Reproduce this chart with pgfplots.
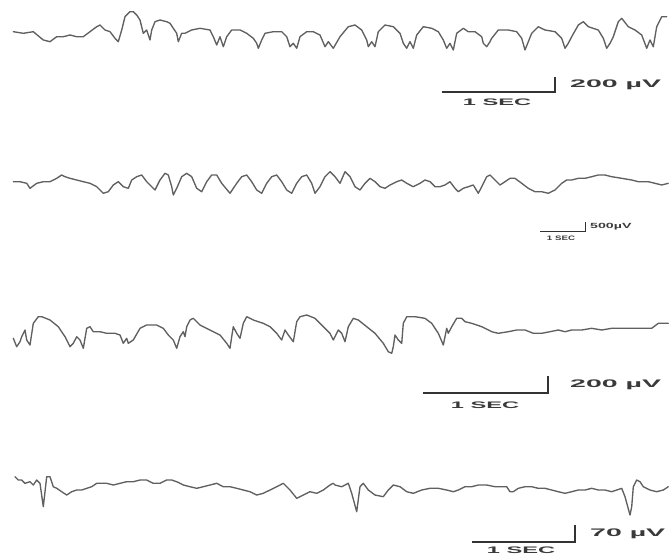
\documentclass[border=0pt]{standalone}
\usepackage{pgfplots}
\pgfplotsset{compat=1.18}
\usepackage{fontspec}
\setmainfont{Liberation Sans}
\definecolor{trace}{HTML}{606060}
\definecolor{lab}{HTML}{3A3A3A}
\newcommand{\lbl}[3]{{\fontsize{#1}{#1}\selectfont\bfseries\color{lab}\scalebox{#2}[1]{#3}}}
\begin{document}
\begin{tikzpicture}
\begin{axis}[scale only axis, width=670bp, height=558bp,
  xmin=0, xmax=670, ymin=0, ymax=558, y dir=reverse,
  axis line style={draw=none}, ticks=none, clip=false,
  tr/.style={draw=trace, line width=1.35bp, line join=round, line cap=round, no markers},
  sb/.style={draw=black!80, line width=1.1bp, no markers}]
% ---- trace 1
\addplot[tr] coordinates {(13.3,31.7)(23.3,33.3)(33.3,31.7)(43.3,40)(50,41.7)(56.7,36.7)(63.3,36.7)(70,35)(76.7,36.7)(83.3,36.7)(90,31.7)(96.7,26.7)(100,25)(105,30)(110,31.7)(115,38.3)(118.3,41.7)(121.7,30)(125,16.7)(130,11.7)(133.3,11.7)(136.7,15)(140,20)(143.3,33.3)(146.7,30)(150,40)(151.7,30)(155,21.7)(160,20)(166.7,21.7)(170,23.3)(173.3,28.3)(176.7,33.3)(178.3,41.7)(181.7,33.3)(185,33.3)(191.7,30)(200,28.3)(210,30)(213.3,36.7)(216.7,45)(220,36.7)(223.3,46.7)(226.7,36.7)(231.7,30)(240,30)(246.7,33.3)(253.3,38.3)(256.7,43.3)(258.3,48.3)(261.7,40)(265,33.3)(273.3,31.7)(281.7,31.7)(286.7,36.7)(290,46.7)(293.3,43.3)(296.7,48.3)(300,36.7)(306.7,31.7)(313.3,31.7)(320,35)(325,46.7)(328.3,41.7)(333.3,48.3)
(340,36.7)(348.3,26.7)(355,25)(361.7,30)(366.7,40)(368.3,46.7)(371.7,41.7)(375,46.7)(378.3,31.7)(385,25)(393.3,26.7)(400,33.3)(403.3,43.3)(406.7,48.3)(410,41.7)(413.3,48.3)(416.7,35)(423.3,26.7)(431.7,28.3)(438.3,31.7)(443.3,40)(446.7,48.3)(450,43.3)(453.3,50)(456.7,33.3)(463.3,28.3)(468.3,31.7)(475,31.7)(481.7,36.7)(483.3,43.3)(486.7,46.7)(490,41.7)(491.7,38.3)(498.3,30)(508.3,30)(516.7,31.7)(521.7,38.3)(525,50)(528.3,41.7)(531.7,33.3)(538.3,26.7)(545,30)(555,31.7)(561.7,38.3)(565,48.3)(568.3,43.3)(571.7,36.7)(578.3,25)(583.3,21.7)(588.3,26.7)(598.3,30)(603.3,38.3)(606.7,48.3)(610,43.3)(613.3,36.7)(618.3,21.7)(621.7,18.3)(628.3,26.7)(635,30)(641.7,35)(646.7,48.3)(650,40)(653.3,46.7)(656.7,26.7)(661.7,16.7)(666.7,16.7)};
% ---- trace 2
\addplot[tr] coordinates {(13.3,181.7)(20,181.7)(26.7,183.3)(30,188.3)(36.7,183.3)(43.3,181.7)(50,181.7)(56.7,178.3)(61.7,175)(65,176.7)(70,178.3)(76.7,180)(83.3,181.7)(90,183.3)(96.7,186.7)(103.3,193.3)(108.3,191.7)(113.3,185)(118.3,181.7)(123.3,186.7)(128.3,188.3)(131.7,180)(136.7,176.7)(141.7,175)(146.7,181.7)(151.7,186.7)(155,190)(160,180)(165,173.3)(168.3,175)(171.7,186.7)(173.3,195)(176.7,188.3)(181.7,176.7)(186.7,173.3)(191.7,176.7)(196.7,188.3)(201.7,191.7)(206.7,181.7)(211.7,175)(216.7,175)(221.7,183.3)(230,193.3)(236.7,183.3)(241.7,176.7)(246.7,175)(251.7,181.7)(256.7,190)(261.7,193.3)(266.7,183.3)(271.7,176.7)(276.7,175)(281.7,181.7)(286.7,190)(291.7,193.3)(296.7,183.3)(301.7,176.7)(306.7,175)(311.7,183.3)(315,193.3)(320,186.7)(325,176.7)(330,171.7)(333.3,175)
(335,176.7)(340,183.3)(345,171.7)(350,176.7)(355,186.7)(360,190)(365,183.3)(370,178.3)(375,181.7)(380,186.7)(385,188.3)(390,185)(396.7,181.7)(401.7,180)(406.7,183.3)(413.3,186.7)(420,183.3)(425,180)(430,181.7)(435,186.7)(440,186.7)(445,185)(450,181.7)(455,188.3)(458.3,191.7)(463.3,188.3)(468.3,186.7)(473.3,185)(478.3,193.3)(481.7,186.7)(486.7,176.7)(490,175)(495,180)(500,185)(505,181.7)(510,178.3)(515,178.3)(521.7,183.3)(528.3,188.3)(535,191.7)(541.7,191.7)(548.3,193.3)(555,190)(561.7,183.3)(566.7,180)(571.7,180)(578.3,178.3)(585,178.3)(591.7,176.7)(598.3,175)(605,175)(611.7,176.7)(621.7,178.3)(631.7,180)(638.3,181.7)(648.3,181.7)(655,183.3)(661.7,185)(668.3,183.3)};
% ---- trace 3
\addplot[tr] coordinates {(13.3,338.3)(16.7,346.7)(20,341.7)(21.7,336.7)(25,330)(26.7,340)(30,345)(33.3,323.3)(38.3,316.7)(41.7,316.7)(50,320)(58.3,326.7)(65,336.7)(70,346.7)(73.3,343.3)(76.7,336.7)(80,340)(83.3,348.3)(86.7,328.3)(90,326.7)(93.3,331.7)(100,331.7)(106.7,333.3)(115,333.3)(120,335)(123.3,343.3)(126.7,338.3)(128.3,343.3)(133.3,340)(140,328.3)(146.7,325)(156.7,325)(163.3,328.3)(168.3,335)(173.3,340)(176.7,348.3)(180,336.7)(183.3,331.7)(185,336.7)(186.7,326.7)(190,320)(193.3,318.3)(200,325)(210,330)(220,335)(226.7,343.3)(230,348.3)(231.7,336.7)(233.3,326.7)(236.7,333.3)(240,338.3)(243.3,323.3)(246.7,316.7)(253.3,320)(263.3,323.3)(270,326.7)(276.7,333.3)(281.7,340)(285,330)(288.3,335)(293.3,341.7)(296.7,321.7)(300,316.7)(306.7,315)(315,318.3)(323.3,326.7)(330,333.3)(333.3,340)
(338.3,330)(341.7,333.3)(345,341.7)(348.3,326.7)(353.3,318.3)(358.3,320)(366.7,326.7)(375,333.3)(383.3,343.3)(388.3,351.7)(391.7,353.3)(393.3,346.7)(395,335)(398.3,340)(401.7,343.3)(403.3,323.3)(406.7,316.7)(415,316.7)(425,318.3)(431.7,323.3)(438.3,333.3)(443.3,345)(446.7,328.3)(448.3,333.3)(451.7,326.7)(456.7,318.3)(461.7,318.3)(465,321.7)(471.7,323.3)(481.7,326.7)(491.7,331.7)(498.3,333.3)(508.3,331.7)(516.7,330)(525,330)(533.3,333.3)(541.7,333.3)(550,331.7)(558.3,330)(565,331.7)(571.7,330)(581.7,330)(591.7,328.3)(601.7,330)(611.7,328.3)(621.7,328.3)(631.7,328.3)(641.7,328.3)(651.7,328.3)(658.3,323.3)(668.3,323.3)};
% ---- trace 4
\addplot[tr] coordinates {(15,476.7)(18.3,480)(21.7,480)(25,483.3)(30,481.7)(33.3,485)(36.7,480)(40,483.3)(43.3,506.7)(46.7,476.7)(50,476.7)(53.3,486.7)(56.7,488.3)(61.7,491.7)(66.7,495)(71.7,491.7)(76.7,490)(81.7,490)(86.7,488.3)(91.7,486.7)(96.7,483.3)(101.7,483.3)(106.7,483.3)(113.3,485)(120,483.3)(126.7,481.7)(133.3,481.7)(140,480)(146.7,480)(153.3,483.3)(160,483.3)(166.7,480)(171.7,480)(176.7,481.7)(183.3,485)(190,486.7)(196.7,488.3)(203.3,486.7)(210,485)(216.7,483.3)(223.3,486.7)(230,486.7)(236.7,488.3)(243.3,490)(250,491.7)(256.7,495)(263.3,493.3)(270,490)(276.7,486.7)(283.3,483.3)(290,490)(296.7,498.3)(303.3,495)(310,491.7)(316.7,493.3)(323.3,490)(330,485)(333.3,483.3)
(335,485)(341.7,486.7)(348.3,483.3)(351.7,493.3)(356.7,511.7)(360,486.7)(363.3,483.3)(368.3,490)(375,495)(383.3,496.7)(388.3,490)(393.3,485)(400,486.7)(406.7,491.7)(413.3,493.3)(421.7,490)(430,488.3)(438.3,488.3)(446.7,490)(453.3,491.7)(458.3,490)(465,486.7)(471.7,486.7)(478.3,485)(486.7,485)(495,486.7)(501.7,486.7)(506.7,486.7)(510,491.7)(513.3,491.7)(518.3,488.3)(525,486.7)(531.7,486.7)(538.3,488.3)(545,488.3)(551.7,490)(558.3,491.7)(565,493.3)(571.7,491.7)(578.3,490)(585,490)(591.7,488.3)(598.3,490)(605,490)(611.7,491.7)(616.7,490)(621.7,488.3)(625,496.7)(630,515)(631.7,506.7)(633.3,486.7)(636.7,480)(640,481.7)(643.3,486.7)(650,490)(656.7,491.7)(663.3,490)(668.3,486.7)};
% ---- scale bars
\addplot[sb] coordinates {(441.7,92)(555,92)(555,77)};
\addplot[sb, line width=0.8bp] coordinates {(540,231)(585,231)(585,222)};
\addplot[sb] coordinates {(423,393)(548,393)(548,376)};
\addplot[sb] coordinates {(472,542)(575,542)(575,525)};
% ---- labels
\node[anchor=west, inner sep=0] at (axis cs:570,84.5) {\lbl{11}{2.6}{200 µV}};
\node[inner sep=0] at (axis cs:497,102.5) {\lbl{9.5}{2.5}{1 SEC}};
\node[anchor=west, inner sep=0] at (axis cs:590,227) {\lbl{7.5}{1.9}{500µV}};
\node[inner sep=0] at (axis cs:561,238.5) {\lbl{6.5}{1.5}{1 SEC}};
\node[anchor=west, inner sep=0] at (axis cs:570,384.5) {\lbl{11}{2.6}{200 µV}};
\node[inner sep=0] at (axis cs:485,405) {\lbl{9.5}{2.5}{1 SEC}};
\node[anchor=west, inner sep=0] at (axis cs:590,533.5) {\lbl{11}{2.6}{70 µV}};
\node[inner sep=0] at (axis cs:521,550.5) {\lbl{9.5}{2.5}{1 SEC}};
\end{axis}
\end{tikzpicture}
\end{document}
